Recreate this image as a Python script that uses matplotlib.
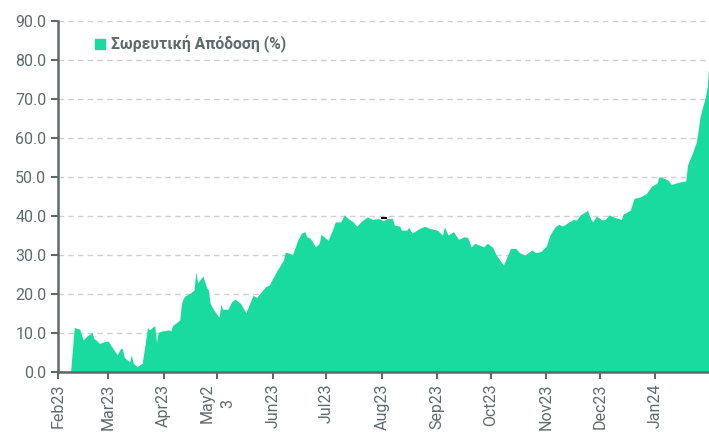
import matplotlib.pyplot as plt
import matplotlib.dates as mdates
from matplotlib.lines import Line2D
import pandas as pd

plt.rcParams['font.family'] = ['Roboto', 'DejaVu Sans']

# δεδομένα (διαβασμένα από το γράφημα)
dates = ['2023-02-01', '2023-02-02', '2023-02-07', '2023-02-08', '2023-02-10', '2023-02-13',
         '2023-02-15', '2023-02-17', '2023-02-20', '2023-02-21', '2023-02-23', '2023-02-24',
         '2023-02-27', '2023-03-01', '2023-03-03', '2023-03-06', '2023-03-08', '2023-03-09',
         '2023-03-10', '2023-03-13', '2023-03-14', '2023-03-15', '2023-03-17', '2023-03-20',
         '2023-03-21', '2023-03-23', '2023-03-24', '2023-03-27', '2023-03-28', '2023-03-29',
         '2023-03-31', '2023-04-04', '2023-04-05', '2023-04-06', '2023-04-10', '2023-04-11',
         '2023-04-12', '2023-04-13', '2023-04-16', '2023-04-18', '2023-04-19', '2023-04-20',
         '2023-04-23', '2023-04-25', '2023-04-26', '2023-04-27', '2023-04-29', '2023-05-02',
         '2023-05-03', '2023-05-04', '2023-05-07', '2023-05-09', '2023-05-11', '2023-05-12',
         '2023-05-14', '2023-05-17', '2023-05-21', '2023-05-23', '2023-05-28', '2023-05-30',
         '2023-06-03', '2023-06-07', '2023-06-08', '2023-06-11', '2023-06-12', '2023-06-15',
         '2023-06-17', '2023-06-19', '2023-06-20', '2023-06-22', '2023-06-25', '2023-06-27',
         '2023-06-28', '2023-07-02', '2023-07-04', '2023-07-06', '2023-07-09', '2023-07-11',
         '2023-07-13', '2023-07-16', '2023-07-18', '2023-07-21', '2023-07-24', '2023-07-27',
         '2023-07-30', '2023-08-02', '2023-08-04', '2023-08-07', '2023-08-08', '2023-08-11',
         '2023-08-12', '2023-08-15', '2023-08-16', '2023-08-18', '2023-08-22', '2023-08-25',
         '2023-08-28', '2023-09-01', '2023-09-04', '2023-09-05', '2023-09-07', '2023-09-10',
         '2023-09-13', '2023-09-16', '2023-09-18', '2023-09-20', '2023-09-22', '2023-09-27',
         '2023-09-29', '2023-10-02', '2023-10-04', '2023-10-08', '2023-10-12', '2023-10-15',
         '2023-10-17', '2023-10-20', '2023-10-24', '2023-10-26', '2023-10-29', '2023-11-01',
         '2023-11-03', '2023-11-06', '2023-11-08', '2023-11-10', '2023-11-13', '2023-11-16',
         '2023-11-18', '2023-11-20', '2023-11-22', '2023-11-24', '2023-11-26', '2023-11-27',
         '2023-11-29', '2023-12-02', '2023-12-04', '2023-12-06', '2023-12-09', '2023-12-13',
         '2023-12-14', '2023-12-18', '2023-12-20', '2023-12-24', '2023-12-27', '2023-12-30',
         '2024-01-02', '2024-01-03', '2024-01-06', '2024-01-08', '2024-01-10', '2024-01-12',
         '2024-01-15', '2024-01-18', '2024-01-19', '2024-01-22', '2024-01-24', '2024-01-26',
         '2024-01-29', '2024-01-30', '2024-01-31']
returns = [0.0, 0.3, 0.2, 0.3, 11.4, 11.0,
           8.2, 9.2, 10.1, 8.6, 7.9, 7.3,
           7.8, 7.9, 6.5, 4.4, 6.1, 5.9,
           3.7, 2.6, 4.4, 2.2, 1.4, 2.2,
           5.2, 11.4, 10.8, 11.9, 7.6, 10.2,
           10.5, 10.8, 10.5, 11.9, 13.3, 17.6,
           18.9, 19.5, 20.3, 21.0, 25.7, 22.9,
           24.6, 21.7, 21.0, 17.6, 15.9, 14.0,
           17.4, 16.1, 16.1, 18.0, 18.7, 18.3,
           17.6, 15.2, 19.7, 19.1, 21.9, 22.3,
           25.7, 28.7, 30.7, 30.4, 30.0, 33.8,
           35.6, 36.0, 34.7, 34.3, 32.1, 33.0,
           35.3, 33.8, 36.0, 38.5, 38.5, 40.3,
           39.4, 38.5, 37.4, 38.8, 39.8, 39.1,
           39.4, 38.8, 39.4, 39.4, 37.7, 37.4,
           36.4, 36.4, 37.1, 35.6, 36.8, 37.4,
           36.8, 36.4, 35.1, 37.3, 35.1, 36.0,
           34.0, 34.7, 34.5, 32.1, 33.0, 32.1,
           33.0, 32.0, 30.0, 27.4, 31.7, 31.7,
           30.6, 30.0, 31.3, 30.6, 30.9, 32.3,
           35.1, 37.3, 37.9, 37.4, 38.3, 39.1,
           39.0, 40.3, 40.8, 41.5, 39.1, 38.5,
           40.0, 39.0, 39.1, 40.3, 39.7, 39.1,
           40.5, 41.5, 44.5, 45.0, 45.8, 47.7,
           48.5, 50.1, 49.7, 49.2, 48.1, 48.4,
           48.8, 49.0, 53.1, 56.5, 59.1, 65.5,
           70.6, 73.2, 79.5]
month_ticks = ['2023-02-01', '2023-03-01', '2023-04-01', '2023-05-01', '2023-06-01', '2023-07-01',
               '2023-08-01', '2023-09-01', '2023-10-01', '2023-11-01', '2023-12-01', '2024-01-01']
month_labels = ['Feb23', 'Mar23', 'Apr23', 'May2\n3', 'Jun23', 'Jul23',
                'Aug23', 'Sep23', 'Oct23', 'Nov23', 'Dec23', 'Jan24']

x = pd.to_datetime(dates)
green = '#19DBA0'
grey = '#5E6A6B'

fig = plt.figure(figsize=(7.09, 4.32), dpi=100)
ax = fig.add_axes([0.082, 0.139, 0.918, 0.812])

ax.fill_between(x, returns, 0, color=green, linewidth=0)
# μικρό σημάδι στην αρχή Αυγούστου
ax.plot(pd.to_datetime(['2023-08-02']), [39.5], marker='_', color='black', markersize=4, mew=1.5)

ax.set_xlim(pd.Timestamp('2023-02-01'), pd.Timestamp('2024-01-31'))
ax.set_ylim(0, 90)
ax.set_yticks(range(0, 91, 10))
ax.set_yticklabels([f'{v:.1f}' for v in range(0, 91, 10)])
ax.set_xticks(pd.to_datetime(month_ticks))
ax.set_xticklabels(month_labels, rotation=90, linespacing=1.45)

ax.grid(axis='y', color='#d0d0d0', linestyle=(0, (4, 3)), linewidth=1)
ax.set_axisbelow(True)
for s in ['top', 'right']:
    ax.spines[s].set_visible(False)
for s in ['left', 'bottom']:
    ax.spines[s].set_color(grey)
    ax.spines[s].set_linewidth(1.8)
    ax.spines[s].set_zorder(5)
ax.tick_params(colors=grey, labelsize=11.5, length=5, width=1.5, labelcolor=grey)

handle = Line2D([], [], marker='s', linestyle='none', color=green, markersize=7.5)
leg = ax.legend([handle], ['Σωρευτική Απόδοση (%)'], loc='upper left',
                bbox_to_anchor=(0.03, 1.0), frameon=False, handletextpad=0.2,
                handlelength=1.0, prop={'weight': 'bold', 'size': 11.3})
for t in leg.get_texts():
    t.set_color(grey)

plt.savefig('out.png', dpi=100)
